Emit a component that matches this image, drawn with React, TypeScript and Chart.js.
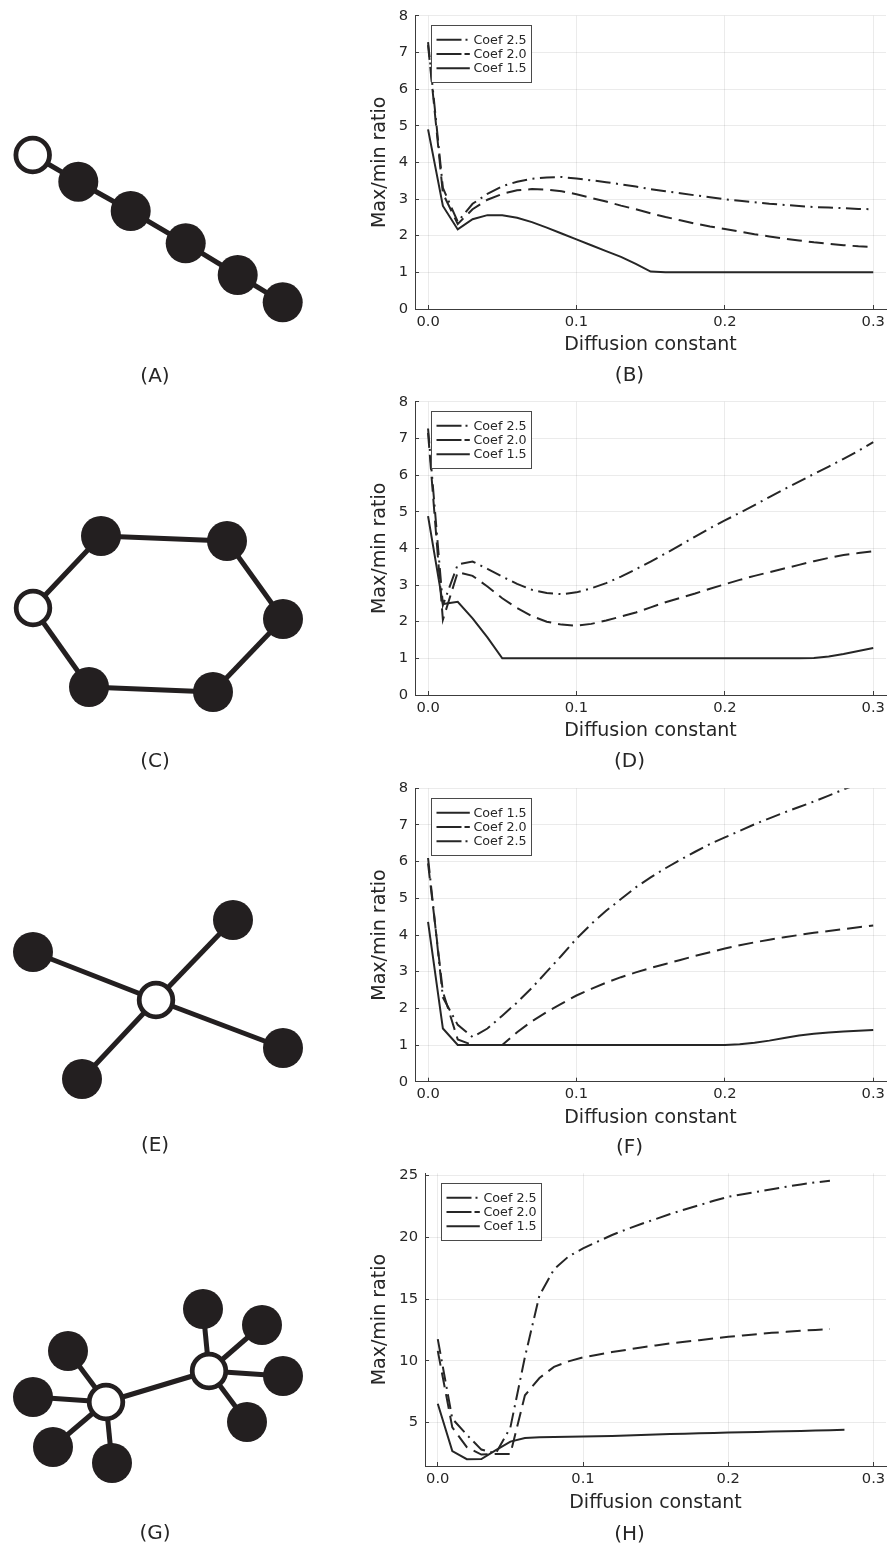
import React, { useEffect, useRef } from 'react';
import { Chart, registerables } from 'chart.js';

Chart.register(...registerables);

const FONT = '"DejaVu Sans", Verdana, sans-serif';
const INK = '#231f20';
const LINE = '#262626';
const TEXT = '#262626';
const GRID = 'rgba(0,0,0,0.08)';
const AXIS = '#3c3c3c';

// ---------- x values (diffusion constant) ----------
const diffusionConstant = [
  0.00, 0.01, 0.02, 0.03, 0.04, 0.05, 0.06, 0.07, 0.08, 0.09,
  0.10, 0.11, 0.12, 0.13, 0.14, 0.15, 0.16, 0.17, 0.18, 0.19,
  0.20, 0.21, 0.22, 0.23, 0.24, 0.25, 0.26, 0.27, 0.28, 0.29, 0.30,
];
const xTickLabels = ['0.0', '0.1', '0.2', '0.3'];

// ---------- (B) chain ----------
const chainCoef25 = [7.28, 3.30, 2.38, 2.87, 3.14, 3.35, 3.47, 3.55, 3.59, 3.60, 3.56, 3.51, 3.46, 3.40, 3.34, 3.27, 3.21, 3.16, 3.10, 3.05, 2.99, 2.95, 2.91, 2.87, 2.84, 2.81, 2.78, 2.77, 2.75, 2.73, 2.72];
const chainCoef20 = [7.20, 3.15, 2.32, 2.72, 2.98, 3.14, 3.24, 3.27, 3.26, 3.21, 3.13, 3.03, 2.93, 2.82, 2.72, 2.61, 2.51, 2.42, 2.33, 2.25, 2.18, 2.11, 2.04, 1.98, 1.92, 1.87, 1.82, 1.78, 1.74, 1.71, 1.69];
const chainCoef15 = [4.90, 2.81, 2.17, 2.45, 2.56, 2.56, 2.49, 2.37, 2.22, 2.06, 1.90, 1.74, 1.58, 1.42, 1.23, 1.02, 1.00, 1.00, 1.00, 1.00, 1.00, 1.00, 1.00, 1.00, 1.00, 1.00, 1.00, 1.00, 1.00, 1.00, 1.00];

// ---------- (D) ring ----------
const ringCoef25 = [7.27, 2.45, 3.56, 3.64, 3.44, 3.23, 3.03, 2.87, 2.78, 2.75, 2.80, 2.91, 3.05, 3.23, 3.43, 3.64, 3.86, 4.09, 4.32, 4.55, 4.76, 4.97, 5.18, 5.40, 5.61, 5.82, 6.03, 6.23, 6.44, 6.66, 6.90];
const ringCoef20 = [7.15, 2.05, 3.35, 3.25, 2.96, 2.64, 2.37, 2.15, 2.00, 1.92, 1.89, 1.94, 2.03, 2.14, 2.25, 2.39, 2.53, 2.65, 2.77, 2.90, 3.02, 3.14, 3.25, 3.35, 3.45, 3.55, 3.65, 3.74, 3.82, 3.87, 3.92];
const ringCoef15 = [4.88, 2.48, 2.54, 2.09, 1.57, 1.00, 1.00, 1.00, 1.00, 1.00, 1.00, 1.00, 1.00, 1.00, 1.00, 1.00, 1.00, 1.00, 1.00, 1.00, 1.00, 1.00, 1.00, 1.00, 1.00, 1.00, 1.01, 1.05, 1.12, 1.20, 1.28];

// ---------- (F) star ----------
const starCoef15 = [4.36, 1.45, 1.00, 1.00, 1.00, 1.00, 1.00, 1.00, 1.00, 1.00, 1.00, 1.00, 1.00, 1.00, 1.00, 1.00, 1.00, 1.00, 1.00, 1.00, 1.00, 1.02, 1.06, 1.12, 1.19, 1.26, 1.31, 1.34, 1.37, 1.39, 1.41];
const starCoef20 = [5.95, 2.45, 1.15, 1.00, 1.00, 1.00, 1.35, 1.65, 1.90, 2.13, 2.35, 2.53, 2.70, 2.85, 2.98, 3.10, 3.21, 3.32, 3.43, 3.53, 3.63, 3.72, 3.80, 3.87, 3.94, 4.00, 4.06, 4.11, 4.16, 4.21, 4.26];
const starCoef25 = [6.10, 2.30, 1.55, 1.22, 1.45, 1.80, 2.16, 2.56, 3.00, 3.44, 3.90, 4.30, 4.66, 4.98, 5.30, 5.57, 5.82, 6.05, 6.27, 6.48, 6.66, 6.84, 7.02, 7.18, 7.34, 7.49, 7.64, 7.80, 7.97, 8.12, 8.27];

// ---------- (H) double star ----------
const dumbbellCoef25 = [11.75, 5.30, 4.00, 2.80, 2.50, 4.60, 10.30, 15.30, 17.40, 18.45, 19.10, 19.65, 20.19, 20.65, 21.08, 21.48, 21.89, 22.26, 22.61, 22.96, 23.29, 23.50, 23.69, 23.90, 24.10, 24.29, 24.45, 24.58];
const dumbbellCoef20 = [10.80, 4.60, 3.00, 2.40, 2.45, 2.45, 7.20, 8.60, 9.50, 9.95, 10.27, 10.49, 10.70, 10.89, 11.08, 11.24, 11.40, 11.54, 11.67, 11.80, 11.94, 12.05, 12.16, 12.26, 12.34, 12.43, 12.50, 12.57];
const dumbbellCoef15 = [6.52, 2.68, 2.02, 2.03, 2.75, 3.45, 3.73, 3.80, 3.82, 3.84, 3.86, 3.88, 3.91, 3.95, 3.99, 4.03, 4.06, 4.09, 4.12, 4.15, 4.18, 4.21, 4.23, 4.26, 4.28, 4.31, 4.34, 4.37, 4.40];

// ---------- graph drawings (node layouts) ----------
const chainNodes = [[32.7, 155], [78.3, 181.7], [130.7, 211], [185.7, 243.3], [237.7, 275], [282.7, 302.3]];
const chainEdges = [[0, 1], [1, 2], [2, 3], [3, 4], [4, 5]];
const chainOpen = [0];

const ringNodes = [[33, 222], [101, 150], [227, 155], [283, 233], [213, 306], [89, 301]];
const ringEdges = [[0, 1], [1, 2], [2, 3], [3, 4], [4, 5], [5, 0]];
const ringOpen = [0];

const starNodes = [[156, 228], [33, 180], [233, 148], [283, 276], [82, 307]];
const starEdges = [[0, 1], [0, 2], [0, 3], [0, 4]];
const starOpen = [0];

const dumbbellNodes = [
  [106, 244], [209, 213],
  [68, 193], [33, 239], [53, 289], [112, 305],
  [203, 151], [262, 167], [283, 218], [247, 264],
];
const dumbbellEdges = [[0, 1], [0, 2], [0, 3], [0, 4], [0, 5], [1, 6], [1, 7], [1, 8], [1, 9]];
const dumbbellOpen = [0, 1];

type Style = 'solid' | 'dash' | 'dashdot';
const CURVE_DASH: Record<Style, number[]> = { solid: [], dash: [15, 7], dashdot: [15, 5.5, 2, 5.5] };
const LEGEND_DASH: Record<Style, number[]> = { solid: [], dash: [25, 3], dashdot: [25, 4, 2, 4] };

interface SeriesDef { label: string; values: number[]; style: Style; }

interface PanelDef {
  top: number;
  padTop: number;
  padBottom: number;
  xHeight: number;
  yWidth: number;
  yMin: number;
  yMax: number;
  yStep: number;
  series: SeriesDef[];
}

const ROW_H = 386;
const CHART_W = 532;

const panels: PanelDef[] = [
  {
    top: 0, padTop: 15.7, padBottom: 29.6, xHeight: 47.4, yWidth: 55, yMin: 0, yMax: 8, yStep: 1,
    series: [
      { label: 'Coef 2.5', values: chainCoef25, style: 'dashdot' },
      { label: 'Coef 2.0', values: chainCoef20, style: 'dash' },
      { label: 'Coef 1.5', values: chainCoef15, style: 'solid' },
    ],
  },
  {
    top: 386, padTop: 15.7, padBottom: 29.6, xHeight: 47.4, yWidth: 55, yMin: 0, yMax: 8, yStep: 1,
    series: [
      { label: 'Coef 2.5', values: ringCoef25, style: 'dashdot' },
      { label: 'Coef 2.0', values: ringCoef20, style: 'dash' },
      { label: 'Coef 1.5', values: ringCoef15, style: 'solid' },
    ],
  },
  {
    top: 772, padTop: 16.3, padBottom: 28.9, xHeight: 47.4, yWidth: 55, yMin: 0, yMax: 8, yStep: 1,
    series: [
      { label: 'Coef 1.5', values: starCoef15, style: 'solid' },
      { label: 'Coef 2.0', values: starCoef20, style: 'dash' },
      { label: 'Coef 2.5', values: starCoef25, style: 'dashdot' },
    ],
  },
  {
    top: 1158, padTop: 15.3, padBottom: 30, xHeight: 48, yWidth: 65, yMin: 1.47, yMax: 25.19, yStep: 5,
    series: [
      { label: 'Coef 2.5', values: dumbbellCoef25, style: 'dashdot' },
      { label: 'Coef 2.0', values: dumbbellCoef20, style: 'dash' },
      { label: 'Coef 1.5', values: dumbbellCoef15, style: 'solid' },
    ],
  },
];

function boxLegend(series: SeriesDef[]) {
  return {
    id: 'boxLegend',
    afterDraw(chart: any) {
      const { ctx, chartArea } = chart;
      const x0 = Math.round(chartArea.left + 15.5) + 0.5;
      const y0 = Math.round(chartArea.top + 9.3) + 0.5;
      const w = 100;
      const h = 57;
      ctx.save();
      ctx.setLineDash([]);
      ctx.fillStyle = '#ffffff';
      ctx.fillRect(x0, y0, w, h);
      ctx.strokeStyle = '#4a4a4a';
      ctx.lineWidth = 1;
      ctx.strokeRect(x0, y0, w, h);
      series.forEach((s, i) => {
        const y = y0 + 14.3 + i * 14.2;
        ctx.beginPath();
        ctx.setLineDash(LEGEND_DASH[s.style]);
        ctx.lineWidth = 2;
        ctx.strokeStyle = LINE;
        ctx.moveTo(x0 + 5, y);
        ctx.lineTo(x0 + 38.3, y);
        ctx.stroke();
        ctx.setLineDash([]);
        ctx.fillStyle = TEXT;
        ctx.font = `12.7px ${FONT}`;
        ctx.textBaseline = 'middle';
        ctx.textAlign = 'left';
        ctx.fillText(s.label, x0 + 42, y + 0.5);
      });
      ctx.restore();
    },
  };
}

function RatioChart({ panel }: { panel: PanelDef }) {
  const ref = useRef<HTMLCanvasElement | null>(null);
  useEffect(() => {
    if (!ref.current) return;
    const chart = new Chart(ref.current, {
      type: 'line',
      data: {
        datasets: panel.series.map((s) => ({
          label: s.label,
          data: s.values.map((v, i) => ({ x: diffusionConstant[i], y: v })),
          borderColor: LINE,
          borderWidth: 2,
          borderDash: CURVE_DASH[s.style],
          pointRadius: 0,
          tension: 0,
          fill: false,
        })),
      },
      options: {
        animation: false,
        responsive: false,
        events: [],
        layout: { autoPadding: false, padding: { top: panel.padTop, right: 6, bottom: panel.padBottom, left: 0 } },
        plugins: { legend: { display: false }, tooltip: { enabled: false } },
        scales: {
          x: {
            type: 'linear',
            min: -0.0088,
            max: 0.3086,
            ticks: {
              stepSize: 0.1,
              includeBounds: false,
              autoSkip: false,
              maxRotation: 0,
              padding: 8,
              color: TEXT,
              font: { family: FONT, size: 14.7 },
              callback: (v: any) => {
                const idx = Math.round(Number(v) * 10);
                return xTickLabels[idx] ?? Number(v).toFixed(1);
              },
            },
            grid: { color: GRID, lineWidth: 1, drawTicks: true, tickLength: -4, tickColor: AXIS, tickWidth: 1 },
            border: { color: AXIS, width: 1 },
            title: {
              display: true,
              text: 'Diffusion constant',
              color: TEXT,
              font: { family: FONT, size: 19 },
              padding: { top: 0, bottom: 0 },
            },
            afterFit: (s: any) => {
              s.height = panel.xHeight;
              s.paddingLeft = 0; s.paddingRight = 0; s.paddingTop = 0; s.paddingBottom = 0;
            },
          },
          y: {
            type: 'linear',
            min: panel.yMin,
            max: panel.yMax,
            ticks: {
              stepSize: panel.yStep,
              includeBounds: false,
              autoSkip: false,
              padding: 11,
              color: TEXT,
              font: { family: FONT, size: 14.7 },
            },
            grid: { color: GRID, lineWidth: 1, drawTicks: true, tickLength: -4, tickColor: AXIS, tickWidth: 1 },
            border: { color: AXIS, width: 1 },
            title: {
              display: true,
              text: 'Max/min ratio',
              color: TEXT,
              font: { family: FONT, size: 19 },
              padding: { top: 9, bottom: 0 },
            },
            afterFit: (s: any) => {
              s.width = panel.yWidth;
              s.paddingLeft = 0; s.paddingRight = 0; s.paddingTop = 0; s.paddingBottom = 0;
            },
          },
        },
      } as any,
      plugins: [boxLegend(panel.series)],
    });
    return () => chart.destroy();
  }, [panel]);
  return (
    <canvas
      ref={ref}
      width={CHART_W}
      height={ROW_H}
      style={{ position: 'absolute', left: 360, top: panel.top, width: CHART_W, height: ROW_H }}
    />
  );
}

interface GraphDef { top: number; nodes: number[][]; edges: number[][]; open: number[]; }

const graphs: GraphDef[] = [
  { top: 0, nodes: chainNodes, edges: chainEdges, open: chainOpen },
  { top: 386, nodes: ringNodes, edges: ringEdges, open: ringOpen },
  { top: 772, nodes: starNodes, edges: starEdges, open: starOpen },
  { top: 1158, nodes: dumbbellNodes, edges: dumbbellEdges, open: dumbbellOpen },
];

const GRAPH_W = 320;

function GraphDrawing({ g }: { g: GraphDef }) {
  const ref = useRef<HTMLCanvasElement | null>(null);
  useEffect(() => {
    if (!ref.current) return;
    const pt = (i: number) => ({ x: g.nodes[i][0], y: g.nodes[i][1] });
    const edgeSets = g.edges.map(([a, b]) => ({
      data: [pt(a), pt(b)],
      showLine: true,
      borderColor: INK,
      borderWidth: 5,
      pointRadius: 0,
      clip: false,
      order: 2,
    }));
    const filled = g.nodes.map((_, i) => i).filter((i) => !g.open.includes(i));
    const chart = new Chart(ref.current, {
      type: 'scatter',
      data: {
        datasets: [
          ...edgeSets,
          {
            data: filled.map(pt),
            showLine: false,
            pointRadius: 20,
            pointBackgroundColor: INK,
            pointBorderWidth: 0,
            pointBorderColor: INK,
            clip: false,
            order: 1,
          },
          {
            data: g.open.map(pt),
            showLine: false,
            pointRadius: 16.8,
            pointBackgroundColor: '#ffffff',
            pointBorderColor: INK,
            pointBorderWidth: 4.8,
            clip: false,
            order: 0,
          },
        ],
      },
      options: {
        animation: false,
        responsive: false,
        events: [],
        layout: { autoPadding: false, padding: 0 },
        plugins: { legend: { display: false }, tooltip: { enabled: false } },
        scales: {
          x: { type: 'linear', display: false, min: 0, max: GRAPH_W },
          y: { type: 'linear', display: false, min: 0, max: ROW_H, reverse: true },
        },
      } as any,
    });
    return () => chart.destroy();
  }, [g]);
  return (
    <canvas
      ref={ref}
      width={GRAPH_W}
      height={ROW_H}
      style={{ position: 'absolute', left: 0, top: g.top, width: GRAPH_W, height: ROW_H }}
    />
  );
}

const panelLabels = [
  { text: '(A)', x: 155, y: 375 },
  { text: '(B)', x: 629.5, y: 374 },
  { text: '(C)', x: 155, y: 760 },
  { text: '(D)', x: 629.5, y: 760 },
  { text: '(E)', x: 155, y: 1144 },
  { text: '(F)', x: 629.5, y: 1146 },
  { text: '(G)', x: 155, y: 1532 },
  { text: '(H)', x: 629.5, y: 1533 },
];

export default function App() {
  return (
    <div
      style={{
        position: 'absolute',
        left: 0,
        top: 0,
        width: 892,
        height: 1544,
        overflow: 'hidden',
        background: '#ffffff',
      }}
    >
      {graphs.map((g, i) => (
        <GraphDrawing key={'g' + i} g={g} />
      ))}
      {panels.map((p, i) => (
        <RatioChart key={'p' + i} panel={p} />
      ))}
      {panelLabels.map((l) => (
        <div
          key={l.text}
          style={{
            position: 'absolute',
            left: l.x - 40,
            top: l.y - 12.5,
            width: 80,
            textAlign: 'center',
            fontFamily: FONT,
            fontSize: 20,
            lineHeight: '24px',
            color: TEXT,
          }}
        >
          {l.text}
        </div>
      ))}
    </div>
  );
}
